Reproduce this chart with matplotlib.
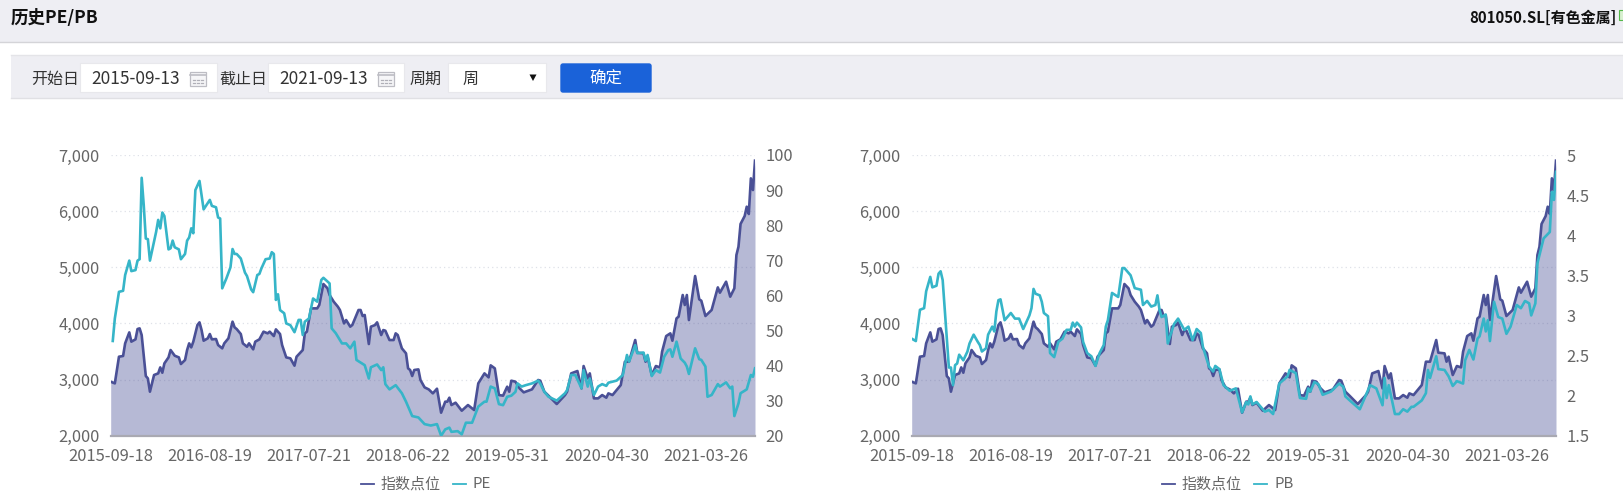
#!/usr/bin/env python3

import matplotlib
matplotlib.use("Agg")
import matplotlib.pyplot as plt
from matplotlib.patches import Rectangle, Polygon, FancyBboxPatch

plt.rcParams['font.family'] = ['Noto Sans CJK SC', 'DejaVu Sans']

# values, x is the weekly category position
date_labels = ["2015-09-18", "2016-08-19", "2017-07-21", "2018-06-22",
               "2019-05-31", "2020-04-30", "2021-03-26"]
left_ticks = [2000, 3000, 4000, 5000, 6000, 7000]
pe_ticks = [20, 30, 40, 50, 60, 70, 80, 90, 100]
pb_ticks = [1.5, 2, 2.5, 3, 3.5, 4, 4.5, 5]

index_weeks = [0, 2, 4, 6, 7, 9, 10, 12, 13, 14, 15, 17, 18, 19, 21, 23, 24, 25, 26, 28, 29, 31, 33, 34, 36, 37, 38, 39,
               40, 42, 43, 44, 45, 47, 48, 49, 51, 52, 54, 55, 57, 59, 60, 61, 63, 64, 66, 67, 69, 70, 72, 74, 76, 77,
               79, 80, 82, 83, 85, 87, 89, 90, 93, 94, 95, 97, 100, 101, 103, 105, 106, 108, 110, 111, 113, 114, 116,
               117, 120, 121, 122, 123, 125, 126, 128, 129, 131, 132, 133, 135, 137, 138, 139, 141, 143, 144, 145, 146,
               147, 149, 150, 152, 154, 156, 158, 160, 162, 163, 164, 165, 167, 170, 173, 176, 178, 181, 183, 184, 186,
               188, 190, 192, 193, 194, 196, 198, 200, 204, 207, 208, 210, 212, 216, 220, 221, 223, 226, 228, 229, 231,
               232, 234, 236, 238, 240, 241, 243, 245, 247, 249, 251, 254, 255, 258, 259, 260, 262, 264, 266, 267, 269,
               271, 272, 274, 275, 277, 278, 279, 280, 283, 285, 286, 288, 291, 294, 295, 298, 300, 302, 303, 304, 305,
               307, 308, 309, 310, 311, 312]
index_vals = [2962, 2932, 3407, 3420, 3645, 3840, 3675, 3716, 3900, 3912, 3793, 3063, 3020, 2784, 3081, 3110, 3217, 3122,
              3288, 3395, 3526, 3425, 3395, 3277, 3348, 3526, 3645, 3573, 3675, 3971, 4019, 3882, 3692, 3734, 3811, 3716,
              3722, 3615, 3556, 3645, 3734, 4031, 3930, 3900, 3811, 3645, 3585, 3645, 3538, 3675, 3716, 3853, 3823, 3853,
              3775, 3894, 3811, 3615, 3395, 3378, 3247, 3407, 3526, 3823, 3853, 4268, 4268, 4328, 4702, 4625, 4506, 4387,
              4298, 4239, 4000, 4060, 3942, 3972, 4239, 4239, 4132, 4150, 3633, 3942, 3971, 4019, 3793, 3882, 3870, 3704,
              3704, 3823, 3793, 3556, 3467, 3200, 3170, 3063, 3170, 3181, 2992, 2861, 2825, 2754, 2837, 2410, 2606, 2606,
              2677, 2546, 2588, 2445, 2546, 2457, 2932, 3110, 3039, 3253, 3200, 2724, 2713, 2873, 2784, 2980, 2962, 2843,
              2772, 2825, 2992, 2980, 2784, 2713, 2564, 2724, 2784, 3110, 3152, 2843, 3241, 3021, 3110, 2665, 2665, 2724,
              2677, 2754, 2724, 2813, 2902, 3318, 3318, 3704, 3479, 3467, 3318, 3407, 3081, 3241, 3217, 3496, 3775, 3823,
              3692, 4090, 4120, 4506, 4328, 4506, 4060, 4844, 4428, 4405, 4132, 4239, 4642, 4547, 4743, 4476, 4625, 5218,
              5367, 5771, 5913, 6079, 5949, 6584, 6376, 6899]

pe_weeks = [1, 2, 4, 6, 7, 9, 10, 12, 13, 14, 15, 16, 17, 18, 19, 22, 23, 24, 25, 26, 28, 29, 30, 31, 33, 34, 36, 37, 38,
            39, 40, 41, 43, 45, 48, 49, 51, 52, 53, 54, 56, 58, 59, 60, 61, 63, 65, 66, 68, 69, 71, 72, 73, 75, 77, 78,
            79, 80, 81, 82, 84, 85, 87, 89, 91, 92, 93, 94, 96, 98, 100, 102, 103, 106, 107, 109, 112, 114, 116, 118,
            119, 123, 125, 126, 129, 131, 132, 133, 135, 138, 141, 143, 146, 149, 152, 155, 158, 160, 162, 164, 165,
            168, 170, 172, 175, 178, 181, 182, 184, 186, 188, 190, 192, 194, 196, 197, 199, 201, 204, 207, 208, 210,
            212, 216, 220, 221, 223, 225, 228, 229, 231, 232, 234, 236, 238, 240, 241, 245, 248, 250, 251, 254, 255,
            258, 259, 260, 262, 264, 266, 268, 270, 271, 272, 274, 276, 278, 279, 280, 283, 285, 286, 288, 289, 291,
            294, 295, 298, 300, 301, 302, 304, 305, 308, 310, 311, 312]
pe_vals = [47.0, 53.4, 61.0, 61.3, 65.8, 69.9, 66.9, 67.2, 69.9, 70.3, 93.5, 85.7, 76.2, 76.0, 69.9, 78.1, 81.5, 79.1,
           83.6, 82.6, 73.1, 73.4, 75.6, 73.7, 73.1, 70.3, 71.8, 75.6, 76.5, 79.1, 77.7, 90.0, 92.6, 84.5, 87.2, 85.5,
           85.1, 82.2, 81.9, 62.0, 64.8, 68.0, 73.2, 71.8, 71.8, 70.5, 66.5, 65.5, 61.7, 60.9, 65.8, 66.1, 67.7, 70.3,
           70.5, 72.3, 71.8, 58.7, 60.3, 55.8, 54.9, 52.0, 51.5, 49.5, 53.0, 53.0, 48.7, 52.5, 53.4, 59.1, 58.2, 64.4,
           65.0, 63.4, 50.6, 49.2, 46.3, 46.3, 44.9, 46.8, 41.6, 40.1, 36.3, 39.5, 40.3, 38.7, 39.5, 34.7, 33.2, 34.4,
           32.1, 29.7, 25.6, 25.2, 23.3, 22.9, 23.3, 20.0, 21.8, 22.3, 21.1, 21.3, 20.4, 23.7, 23.7, 28.3, 29.7, 29.7,
           34.0, 33.5, 29.0, 28.7, 31.1, 31.4, 32.5, 34.9, 34.0, 34.4, 34.9, 35.7, 34.9, 32.5, 31.1, 30.0, 32.1, 33.0,
           37.3, 37.3, 33.5, 38.7, 34.0, 36.3, 31.6, 34.0, 34.7, 34.2, 35.1, 35.7, 37.3, 43.0, 41.1, 45.8, 43.5, 43.7,
           41.4, 43.0, 37.0, 38.7, 38.0, 42.5, 44.4, 44.6, 42.5, 46.8, 42.0, 40.8, 39.7, 37.6, 44.9, 41.8, 41.6, 39.7,
           31.1, 31.6, 34.7, 34.0, 35.2, 33.5, 34.0, 25.6, 29.2, 32.1, 33.2, 37.3, 36.8, 39.2]

pb_weeks = [0, 2, 4, 6, 7, 9, 10, 12, 13, 14, 15, 18, 19, 20, 21, 22, 23, 25, 27, 28, 30, 32, 33, 34, 36, 37, 39, 40, 41,
            42, 43, 45, 48, 50, 52, 54, 57, 58, 59, 60, 62, 63, 64, 66, 67, 69, 71, 73, 75, 77, 78, 79, 80, 82, 83, 85,
            87, 89, 91, 93, 94, 95, 97, 100, 102, 103, 106, 108, 111, 112, 114, 116, 118, 119, 120, 121, 123, 124, 127,
            129, 132, 134, 136, 138, 140, 141, 144, 146, 147, 149, 151, 154, 157, 160, 162, 163, 164, 165, 167, 171,
            173, 175, 178, 182, 183, 186, 188, 191, 192, 193, 195, 197, 199, 203, 207, 209, 210, 213, 217, 220, 222,
            225, 228, 229, 230, 231, 234, 236, 238, 240, 242, 243, 247, 249, 250, 251, 254, 255, 258, 260, 262, 264,
            267, 268, 270, 272, 274, 275, 277, 278, 279, 280, 282, 284, 286, 288, 290, 293, 295, 297, 299, 300, 302,
            303, 306, 309, 310, 311, 312]
pb_vals = [2.71, 2.68, 3.07, 3.09, 3.30, 3.48, 3.35, 3.37, 3.52, 3.55, 3.44, 2.35, 2.35, 2.13, 2.38, 2.40, 2.51, 2.44,
           2.55, 2.65, 2.76, 2.67, 2.63, 2.55, 2.59, 2.76, 2.86, 2.80, 3.05, 3.19, 3.20, 2.94, 3.03, 2.96, 2.96, 2.83,
           3.00, 3.09, 3.33, 3.27, 3.25, 3.17, 3.03, 2.99, 2.53, 2.48, 2.67, 2.71, 2.82, 2.82, 2.91, 2.86, 2.91, 2.85,
           2.67, 2.53, 2.49, 2.37, 2.53, 2.63, 2.86, 2.94, 3.28, 3.23, 3.59, 3.59, 3.50, 3.34, 3.32, 3.13, 3.18, 3.11,
           3.13, 3.25, 3.07, 2.98, 3.01, 2.65, 2.89, 2.96, 2.82, 2.86, 2.69, 2.83, 2.78, 2.61, 2.36, 2.30, 2.37, 2.33,
           2.13, 2.06, 2.09, 1.79, 1.92, 1.89, 1.99, 1.89, 1.92, 1.80, 1.82, 1.77, 2.15, 2.24, 2.32, 2.28, 1.97, 1.96,
           2.09, 2.05, 2.17, 2.14, 2.01, 2.05, 2.15, 2.11, 1.99, 1.92, 1.83, 2.01, 2.13, 2.09, 1.88, 2.22, 1.97, 2.13,
           1.77, 1.77, 1.83, 1.80, 1.86, 1.86, 1.94, 2.03, 2.32, 2.22, 2.49, 2.33, 2.32, 2.24, 2.12, 2.18, 2.15, 2.44,
           2.57, 2.45, 2.71, 2.74, 2.96, 2.80, 2.94, 2.68, 3.17, 2.98, 2.96, 2.77, 2.86, 3.13, 3.09, 3.18, 3.15, 3.00,
           3.15, 3.65, 3.96, 4.04, 4.54, 4.44, 4.79]

W, H = 1623, 504
INDEX_COLOR = '#4a5096'
RATIO_COLOR = '#36b5c8'
TEXT_COLOR = '#666666'
PX = 0.72  # font px -> pt at dpi 100

fig = plt.figure(figsize=(W / 100, H / 100), dpi=100)

# page furniture, in pixel coordinates
ui = fig.add_axes([0, 0, 1, 1])
ui.set_xlim(0, W)
ui.set_ylim(H, 0)
ui.axis('off')


def box(x0, y0, x1, y1, color, edge='none'):
    ui.add_patch(Rectangle((x0, y0), x1 - x0, y1 - y0, facecolor=color, edgecolor=edge, linewidth=0.8))


def calendar(x0):
    ui.add_patch(Rectangle((x0, 72), 16, 14, facecolor='#f6f6f8', edgecolor='#bdbdc4', linewidth=0.9))
    ui.plot([x0, x0 + 16], [75, 75], color='#bdbdc4', lw=1.2)
    for dx in (4, 8, 12):
        for y in (79.5, 82.5):
            ui.plot([x0 + dx - 1, x0 + dx + 1], [y, y], color='#b0b0b8', lw=0.9)


box(0, 0, W, 42, '#eeeef3')
ui.plot([0, W], [42, 42], color='#d4d4d8', lw=1)
box(11, 55, W, 98, '#eeeef3')
ui.plot([11, W], [98, 98], color='#e0e0e4', lw=1)
ui.plot([11, W], [55, 55], color='#e4e4e8', lw=1)

ui.text(11, 18, "历史PE/PB", fontsize=17.5 * PX, fontweight='bold', color='#111111', va='center')
ui.text(1617, 18, "801050.SL[有色金属]", fontsize=15 * PX, fontweight='bold', color='#111111', va='center', ha='right')
box(1619, 10, W + 2, 20, '#d8f0d0', '#55b84a')

ui.text(31, 79, "开始日", fontsize=16 * PX, color='#333333', va='center')
box(80, 63, 217, 92, 'white', '#e8e8ec')
ui.text(91.5, 79, "2015-09-13", fontsize=17.3 * PX, color='#333333', va='center')
calendar(190)
ui.text(219, 79, "截止日", fontsize=16 * PX, color='#333333', va='center')
box(268, 63, 404, 92, 'white', '#e8e8ec')
ui.text(279, 79, "2021-09-13", fontsize=17.3 * PX, color='#333333', va='center')
calendar(378)
ui.text(410, 79, "周期", fontsize=16 * PX, color='#333333', va='center')
box(448, 63, 546, 92, 'white', '#e8e8ec')
ui.text(463, 79, "周", fontsize=16 * PX, color='#333333', va='center')
ui.add_patch(Polygon([[529.5, 74.5], [536.5, 74.5], [533, 81]], facecolor='#111111'))
ui.add_patch(FancyBboxPatch((561, 64), 90, 28, boxstyle='round,pad=0,rounding_size=2', facecolor='#1a62d9', edgecolor='#1a62d9', linewidth=1))
ui.text(606, 79.5, "确定", fontsize=16.5 * PX, color='white', va='center', ha='center')


def draw_chart(left_px, ratio_weeks, ratio_vals, ratio_ticks, ratio_labels, ratio_name):
    width_px = 644.3
    top_px, bottom_px = 155.0, 435.7
    pos = [left_px / W, 1 - bottom_px / H, width_px / W, (bottom_px - top_px) / H]
    ax = fig.add_axes(pos)
    ax.patch.set_alpha(0)
    ax.set_xlim(0, 312)
    ax.set_ylim(2000, 7000)
    ax.set_yticks(left_ticks)
    ax.set_yticklabels(["{:,}".format(v) for v in left_ticks])
    ax.set_xticks([48 * i for i in range(len(date_labels))])
    ax.set_xticklabels(date_labels)
    ax.tick_params(axis='y', length=0, pad=8, labelsize=16.5 * PX, labelcolor=TEXT_COLOR)
    ax.tick_params(axis='x', length=0, pad=9, labelsize=16.5 * PX, labelcolor=TEXT_COLOR)
    ax.grid(axis='y', color='#dfe1e8', linestyle=(0, (1, 2.5)), linewidth=0.9, zorder=0)
    ax.set_axisbelow(True)
    for side in ('top', 'left', 'right'):
        ax.spines[side].set_visible(False)
    ax.spines['bottom'].set_color('#a9a9b2')
    ax.spines['bottom'].set_linewidth(1.6)
    ax.fill_between(index_weeks, index_vals, 2000, color=INDEX_COLOR, alpha=0.4, linewidth=0, zorder=1)
    ax.plot(index_weeks, index_vals, color=INDEX_COLOR, linewidth=1.9, zorder=2, solid_joinstyle='round')

    ax2 = ax.twinx()
    ax2.set_ylim(ratio_ticks[0], ratio_ticks[-1])
    ax2.set_yticks(ratio_ticks)
    ax2.set_yticklabels(ratio_labels)
    ax2.tick_params(axis='y', length=0, pad=7.5, labelsize=16.5 * PX, labelcolor=TEXT_COLOR)
    for side in ('top', 'left', 'right', 'bottom'):
        ax2.spines[side].set_visible(False)
    ax2.plot(ratio_weeks, ratio_vals, color=RATIO_COLOR, linewidth=1.9, zorder=3, solid_joinstyle='round')

    # legend
    off = left_px - 110.7
    ui.plot([361 + off, 374 + off], [484, 484], color=INDEX_COLOR, lw=1.3)
    ui.text(381 + off, 484, "指数点位", fontsize=15 * PX, color=TEXT_COLOR, va='center')
    ui.plot([453 + off, 466 + off], [484, 484], color=RATIO_COLOR, lw=1.3)
    ui.text(473 + off, 484, ratio_name, fontsize=15 * PX, color=TEXT_COLOR, va='center')


draw_chart(110.7, pe_weeks, pe_vals, pe_ticks, [str(v) for v in pe_ticks], "PE")
draw_chart(911.7, pb_weeks, pb_vals, pb_ticks, ["{:g}".format(v) for v in pb_ticks], "PB")

fig.savefig("out.png", dpi=100)
